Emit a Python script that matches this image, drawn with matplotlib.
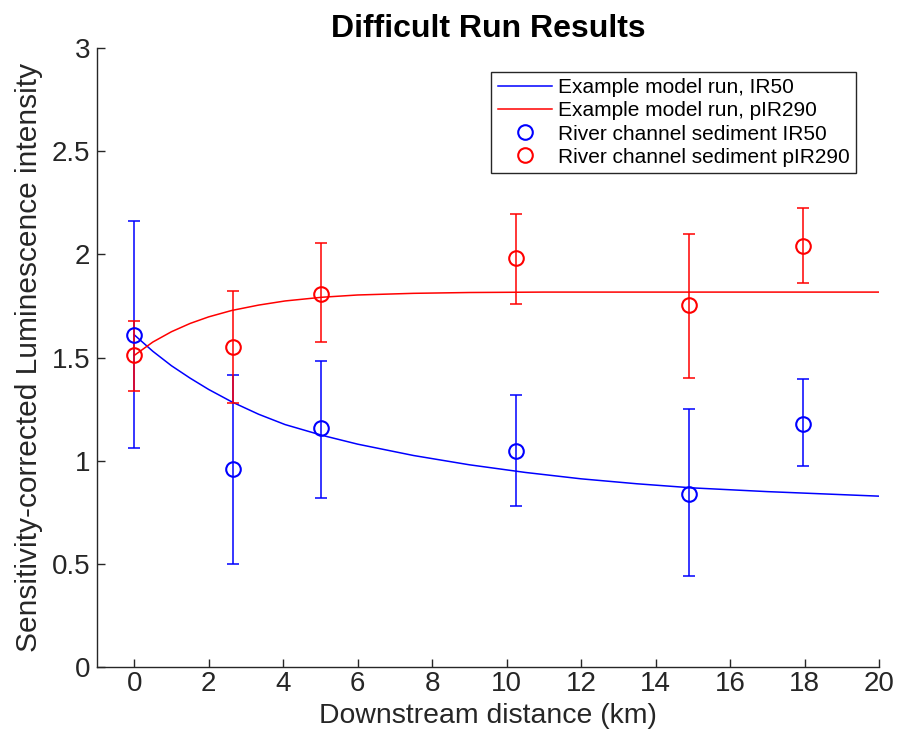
import matplotlib
matplotlib.use('Agg')
import matplotlib.pyplot as plt
from matplotlib.lines import Line2D

plt.rcParams['font.family'] = ['Liberation Sans', 'DejaVu Sans']

# river channel sediment samples
dist = [0.0, 2.66, 5.02, 10.25, 14.9, 17.96]

ir50 = [1.61, 0.96, 1.16, 1.045, 0.84, 1.18]
ir50_lo = [1.06, 0.50, 0.82, 0.78, 0.44, 0.975]
ir50_hi = [2.16, 1.415, 1.485, 1.32, 1.25, 1.395]

pir290 = [1.51, 1.55, 1.81, 1.98, 1.755, 2.04]
pir290_lo = [1.34, 1.28, 1.575, 1.76, 1.40, 1.86]
pir290_hi = [1.675, 1.82, 2.055, 2.195, 2.10, 2.225]

# example model run
model_x_ir50 = [0.0, 0.5, 1.0, 1.5, 2.0, 2.62, 3.34, 4.05, 5.04, 6.0, 7.5,
                9.0, 10.5, 12.0, 13.5, 15.0, 17.0, 20.0]
model_ir50 = [1.61, 1.53, 1.46, 1.40, 1.345, 1.285, 1.225, 1.175, 1.123, 1.08,
              1.025, 0.98, 0.943, 0.912, 0.888, 0.868, 0.85, 0.828]

model_x_pir = [0.0, 0.5, 1.0, 1.5, 2.0, 2.62, 3.34, 4.05, 5.04, 6.0, 7.5,
               9.0, 11.0, 20.0]
model_pir = [1.51, 1.575, 1.625, 1.665, 1.697, 1.728, 1.754, 1.774, 1.792,
             1.803, 1.811, 1.815, 1.817, 1.817]

dark = '#262626'

fig = plt.figure(figsize=(9.13, 7.35), dpi=100)
ax = fig.add_axes([97 / 913, 1 - 667 / 735, 782 / 913, 619 / 735])

l1, = ax.plot(model_x_ir50, model_ir50, color='blue', lw=1.1)
l2, = ax.plot(model_x_pir, model_pir, color='red', lw=1.1)

err_ir = [[v - lo for v, lo in zip(ir50, ir50_lo)], [hi - v for v, hi in zip(ir50, ir50_hi)]]
err_pir = [[v - lo for v, lo in zip(pir290, pir290_lo)], [hi - v for v, hi in zip(pir290, pir290_hi)]]

ax.errorbar(dist, ir50, yerr=err_ir, fmt='none', ecolor='blue', elinewidth=1.1,
            capsize=4.5, capthick=1.1)
ax.errorbar(dist, pir290, yerr=err_pir, fmt='none', ecolor='red', elinewidth=1.1,
            capsize=4.5, capthick=1.1)
m1, = ax.plot(dist, ir50, 'o', ms=10.5, mfc='none', mec='blue', mew=1.5, ls='none')
m2, = ax.plot(dist, pir290, 'o', ms=10.5, mfc='none', mec='red', mew=1.5, ls='none')

ax.set_xlim(-1, 20)
ax.set_ylim(0, 3)
ax.set_xticks(range(0, 21, 2))
ax.set_yticks([0, 0.5, 1, 1.5, 2, 2.5, 3])
ax.set_yticklabels(['0', '0.5', '1', '1.5', '2', '2.5', '3'])

for s in ['top', 'right']:
    ax.spines[s].set_visible(False)
for s in ['left', 'bottom']:
    ax.spines[s].set_color(dark)
    ax.spines[s].set_linewidth(1.0)

ax.tick_params(direction='in', length=6, width=1.0, color=dark, labelcolor=dark,
               labelsize=20)
ax.tick_params(axis='y', pad=5)
ax.tick_params(axis='x', pad=3)

ax.set_xlabel('Downstream distance (km)', fontsize=20.4, color=dark, labelpad=4)
ax.set_ylabel('Sensitivity-corrected Luminescence intensity', fontsize=21.5,
              color=dark, labelpad=6)
ax.set_title('Difficult Run Results', fontsize=23, fontweight='bold', pad=8)

handles = [l1, l2, Line2D([], [], marker='o', ls='none', ms=10.5, mfc='none', mec='blue', mew=1.5),
           Line2D([], [], marker='o', ls='none', ms=10.5, mfc='none', mec='red', mew=1.5)]
labels = ['Example model run, IR50', 'Example model run, pIR290',
          'River channel sediment IR50', 'River channel sediment pIR290']
leg = ax.legend(handles, labels, loc='upper right', bbox_to_anchor=(0.9706, 0.9612),
                borderaxespad=0, fontsize=15, labelspacing=0.2, handlelength=2.6,
                handletextpad=0.3, borderpad=0.3, fancybox=False, framealpha=1)
leg.get_frame().set_edgecolor(dark)
leg.get_frame().set_linewidth(1.0)

fig.savefig('out.png', dpi=100)
